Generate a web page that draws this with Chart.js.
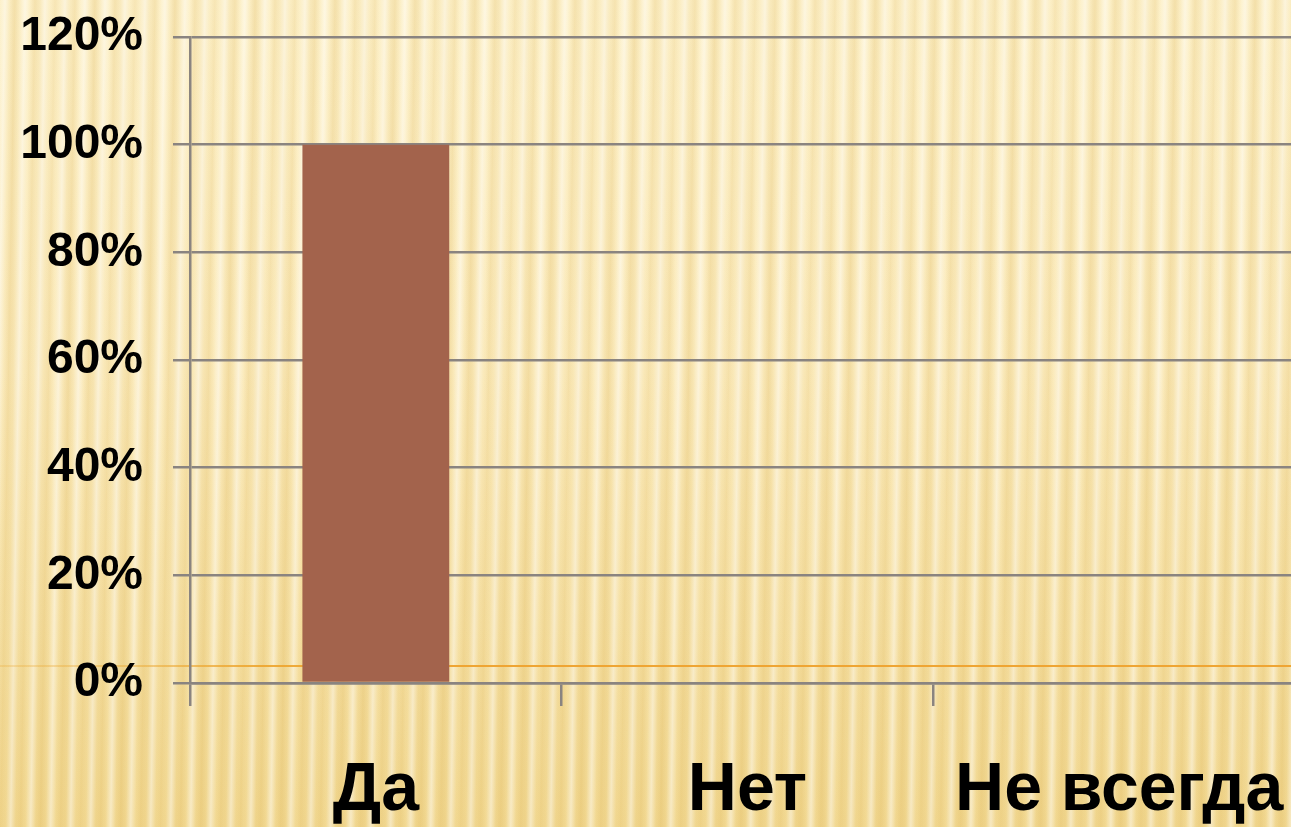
<!DOCTYPE html>
<html>
<head>
<meta charset="utf-8">
<script src="https://cdn.jsdelivr.net/npm/chart.js@4"></script>
<style>
html,body{margin:0;padding:0;width:1291px;height:827px;overflow:hidden;}
body{
  position:relative;
  background:
    repeating-linear-gradient(91deg, rgba(255,255,255,0.0) 0px, rgba(255,255,255,0.45) 5px, rgba(255,255,255,0.0) 10px, rgba(215,170,70,0.16) 15px, rgba(255,255,255,0.0) 20px),
    repeating-linear-gradient(90deg, rgba(255,255,255,0.0) 0px, rgba(210,165,60,0.10) 13px, rgba(255,255,255,0.0) 27px),
    linear-gradient(to bottom, #FDF1CA 0%, #FBEBBD 45%, #F2D993 100%);
}
#orange{position:absolute;left:0;top:665px;width:1291px;height:2px;
  background:linear-gradient(to right, rgba(235,165,45,0.25) 0px, rgba(235,165,45,0.45) 140px, rgba(238,165,45,0.9) 260px, #EFA533 400px);}
#wrap{position:absolute;left:0;top:0;width:1330px;height:827px;}
</style>
</head>
<body>
<div id="orange"></div>
<div id="wrap"><canvas id="c" width="1330" height="827"></canvas></div>
<script>
const categories = ['Да', 'Нет', 'Не всегда'];
const values = [100, 0, 0];
const yMin = 0, yMax = 120, yStep = 20;

const gridColor = '#8A8480';
new Chart(document.getElementById('c'), {
  type: 'bar',
  data: {
    labels: categories,
    datasets: [{
      data: values,
      backgroundColor: '#A3634C',
      borderWidth: 0,
      categoryPercentage: 1.0,
      barPercentage: 0.395
    }]
  },
  options: {
    responsive: false,
    animation: false,
    plugins: { legend: { display: false }, tooltip: { enabled: false } },
    layout: { padding: { left: 0, right: 25, top: 37, bottom: 0 } },
    scales: {
      x: {
        grid: { display: true, drawOnChartArea: false, color: gridColor, lineWidth: 2.5, tickLength: 23, offset: true },
        border: { display: true, color: gridColor, width: 2.5 },
        ticks: { color: '#000', padding: 44, autoSkip: false, maxRotation: 0,
          font: { family: '"Liberation Sans", Arial, sans-serif', size: 68, weight: 'bold' } },
        afterFit: s => { s.height = 144; s.paddingLeft = 0; s.paddingRight = 0; }
      },
      y: {
        min: yMin, max: yMax,
        grid: { color: gridColor, lineWidth: 2.5, tickLength: 17 },
        border: { display: true, color: gridColor, width: 2.5 },
        ticks: { stepSize: yStep, color: '#000', padding: 30,
          font: { family: '"Liberation Sans", Arial, sans-serif', size: 48, weight: 'bold' },
          callback: v => v + '%' },
        afterFit: s => { s.width = 190; s.paddingTop = 0; s.paddingBottom = 0; }
      }
    }
  }
});
</script>
</body>
</html>
